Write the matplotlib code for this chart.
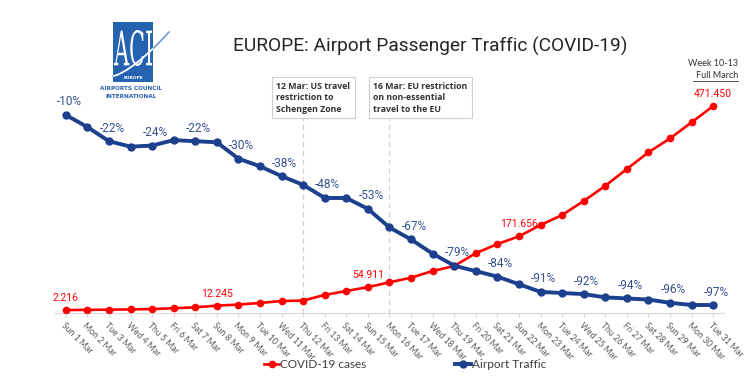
import numpy as np
import matplotlib
matplotlib.use("Agg")
import matplotlib.pyplot as plt
from matplotlib.lines import Line2D
from matplotlib.patches import Rectangle, PathPatch
from matplotlib.textpath import TextPath
from matplotlib.font_manager import FontProperties
import matplotlib.transforms as mtransforms

# ---- data ----
days = ["Sun 1 Mar", "Mon 2 Mar", "Tue 3 Mar", "Wed 4 Mar", "Thu 5 Mar", "Fri 6 Mar",
        "Sat 7 Mar", "Sun 8 Mar", "Mon 9 Mar", "Tue 10 Mar", "Wed 11 Mar", "Thu 12 Mar",
        "Fri 13 Mar", "Sat 14 Mar", "Sun 15 Mar", "Mon 16 Mar", "Tue 17 Mar", "Wed 18 Mar",
        "Thu 19 Mar", "Fri 20 Mar", "Sat 21 Mar", "Sun 22 Mar", "Mon 23 Mar", "Tue 24 Mar",
        "Wed 25 Mar", "Thu 26 Mar", "Fri 27 Mar", "Sat 28 Mar", "Sun 29 Mar", "Mon 30 Mar",
        "Tue 31 Mar"]

covid_cases = [2216, 2600, 3100, 3600, 4500, 6300, 8500, 12245, 14800, 18500, 23000,
               24000, 37000, 46000, 54911, 66000, 76600, 92000, 103500, 133000, 154000,
               171656, 197800, 220800, 253000, 288000, 326600, 365000, 397000, 434000,
               471450]
covid_label_days = [1, 8, 15, 22, 31]

traffic = [-10, -15.5, -22, -24.5, -24, -21.5, -22, -22.5, -30, -33.5, -38, -42, -48,
           -48, -53, -61.5, -67, -73.5, -79, -81.5, -84, -87.5, -91, -91.5, -92, -93.5,
           -94, -94.5, -96, -97, -97]
traffic_label_days = [1, 3, 5, 7, 9, 11, 13, 15, 17, 19, 21, 23, 25, 27, 29, 31]

event_days = [12, 16]
event_texts = ["12 Mar: US travel\nrestriction to\nSchengen Zone",
               "16 Mar: EU restriction\non non-essential\ntravel to the EU"]

RED = "#FF0000"
NAVY = "#1C3F8E"
NAVY_TXT = "#34508F"
W, H = 754, 382

fig = plt.figure(figsize=(W / 100, H / 100), dpi=100)
fig.patch.set_facecolor("white")

ax = fig.add_axes([55 / W, (H - 313) / H, 669 / W, 253 / H])
ax2 = ax.twinx()
x = np.arange(1, len(days) + 1)

# event markers (dashed lines + boxes)
box_shift = [-1.25, -0.75]   # where each box starts, relative to its day
for d, txt, sh in zip(event_days, event_texts, box_shift):
    ax.plot([d, d], [-4600, 446000], color="#D0D0D0", lw=0.9, ls=(0, (4, 3)), zorder=1)
    ax.text(d + sh, 527000, txt, ha="left", va="top", fontsize=6.3, family="Open Sans",
            fontweight="bold", color="#333333", linespacing=1.35,
            bbox=dict(boxstyle="square,pad=0.5", fc="white", ec="#CFCFCF", lw=0.8))

# red: covid cases
ax.plot(x, covid_cases, color=RED, lw=1.9, marker="o", ms=4.5, zorder=3)
for d in covid_label_days:
    v = covid_cases[d - 1]
    ax.annotate(f"{v:,}".replace(",", "."), (d, v), xytext=(0, 12),
                textcoords="offset pixels", ha="center", va="center",
                fontsize=7.5, family="Roboto", color=RED)
ax.set_ylim(-4600, 577300)
ax.set_xlim(0.5, 31.5)

# blue: airport traffic
ax2.plot(x, traffic, color=NAVY, lw=2.8, marker="o", ms=5, zorder=4)
for d in traffic_label_days:
    v = traffic[d - 1]
    ax2.annotate(f"{v:.0f}%", (d, v), xytext=(3, 13), textcoords="offset pixels",
                 ha="center", va="center", fontsize=8.5, family="Roboto", color=NAVY_TXT)
ax2.set_ylim(-100.66, 15.18)

for a in (ax, ax2):
    for s in ("top", "left", "right"):
        a.spines[s].set_visible(False)
    a.set_yticks([])
ax2.spines["bottom"].set_visible(False)
ax.spines["bottom"].set_color("#D9D9D9")
ax.set_xticks(x)
ax.set_xticklabels(days, rotation=-45, ha="left", va="top", rotation_mode="anchor",
                   fontsize=6.2, family="Lato", color="#595959")
ax.tick_params(axis="x", length=3, color="#D9D9D9", pad=3)

# title
fig.text(430 / W, 1 - 46 / H, "EUROPE: Airport Passenger Traffic (COVID-19)",
         ha="center", va="center", fontsize=13.8, family="Roboto", color="#262626")

# week note
fig.text(738 / W, 1 - 64 / H, "Week 10-13", ha="right", va="center", fontsize=6.5,
         family="Lato", color="#333333")
fig.text(738 / W, 1 - 76 / H, "Full March", ha="right", va="center", fontsize=6.5,
         family="Lato", color="#333333")
fig.add_artist(Line2D([693 / W, 738 / W], [1 - 81 / H] * 2, color="#333333", lw=0.6))

# logo
px = mtransforms.Affine2D().scale(1 / W, 1 / H) + fig.transFigure
sq = Rectangle((113, H - 82), 40, 60, transform=px, fc="#2563B0", ec="none")
fig.add_artist(sq)
tp = TextPath((0, 0), "ACI", size=10, prop=FontProperties(family="DejaVu Serif"))
bb = tp.get_extents()
sx, sy = 38 / bb.width, 36 / bb.height
tr = mtransforms.Affine2D().translate(-bb.x0, -bb.y0).scale(sx, sy).translate(114, H - 66) + px
fig.add_artist(PathPatch(tp, transform=tr, fc="white", ec="none"))
t = np.linspace(0, 1, 50)
cx = 113 + 56 * t
cy = H - (76 - 44 * t ** 1.4)
fig.add_artist(Line2D(cx, cy, transform=px, color="#6F9BD6", lw=1.2))
wl = Line2D(cx, cy, transform=px, color="white", lw=1.2)
wl.set_clip_path(sq)
fig.add_artist(wl)
fig.text(133 / W, 1 - 78 / H, "EUROPE", ha="center", va="center", fontsize=3.2,
         color="white", fontweight="bold")
fig.text(131 / W, 1 - 89 / H, "AIRPORTS COUNCIL", ha="center", va="center", fontsize=4.6,
         color="#2A62B0", fontweight="bold", stretch="condensed")
fig.text(131 / W, 1 - 97 / H, "INTERNATIONAL", ha="center", va="center", fontsize=4.6,
         color="#2A62B0", fontweight="bold", stretch="condensed")

# legend
handles = [Line2D([], [], color=RED, lw=1.9, marker="o", ms=4.5),
           Line2D([], [], color=NAVY, lw=2.8, marker="o", ms=5)]
fig.legend(handles, ["COVID-19 cases", "Airport Traffic"], loc="center",
           bbox_to_anchor=(405 / W, 1 - 365 / H), ncol=2, frameon=False,
           handlelength=1.3, handletextpad=0.1, columnspacing=7.5,
           prop=FontProperties(family="Lato", size=8.5), labelcolor="#404040")

fig.savefig("out.png", dpi=100)
